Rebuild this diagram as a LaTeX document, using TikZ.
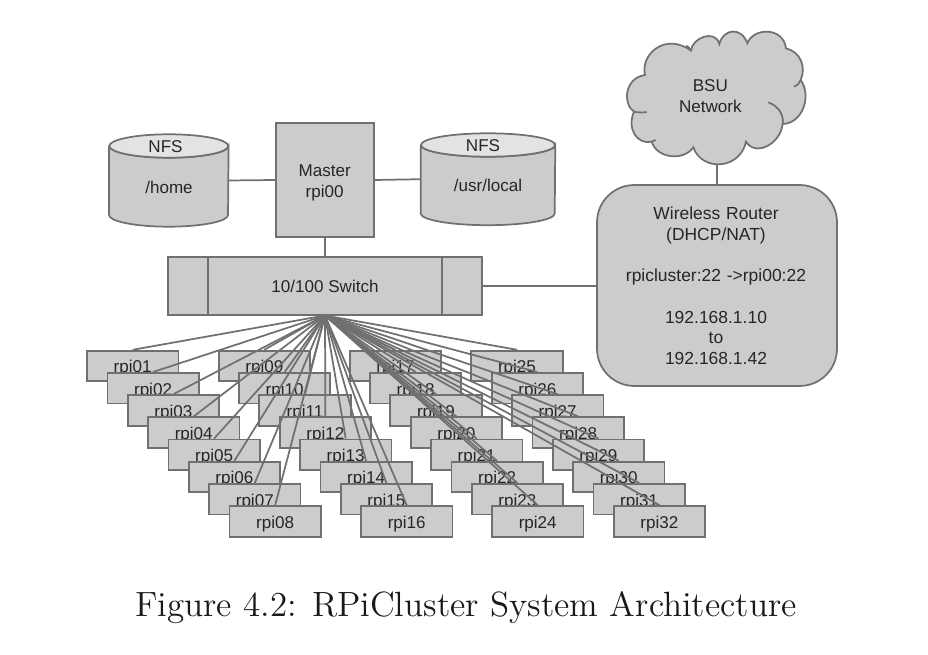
\documentclass[tikz,border=0pt]{standalone}
\usepackage{fontspec}
\newfontfamily\arialish{Liberation Sans}
\newfontfamily\capfont{lmroman12-regular.otf}
\definecolor{boxfill}{HTML}{CCCCCC}
\definecolor{boxline}{HTML}{707070}
\definecolor{capfill}{HTML}{E3E3E3}
\tikzset{
  lw/.style={line width=1.3pt,draw=boxline},
  gbox/.style={lw,fill=boxfill,text=black!85,font=\arialish\fontsize{12.8pt}{15.5pt}\selectfont,inner sep=0pt,align=center},
  rpibox/.style={gbox,minimum width=68.5pt,minimum height=23pt,text height=11.2pt,text depth=0.7pt},
  wire/.style={lw},
  plainlabel/.style={text=black!85,font=\arialish\fontsize{12.8pt}{15.5pt}\selectfont,inner sep=0pt,align=center}
}
\begin{document}
\begin{tikzpicture}[x=0.75pt,y=-0.75pt]
\useasboundingbox (0,0) rectangle (928,655);
% cloud
\begin{scope}[shift={(590,30)},x=0.25pt,y=-0.25pt]
  \path[lw,fill=boxfill]
    (165,135) .. controls (150,75) and (225,5) .. (303,62)
    .. controls (305,25) and (375,-5) .. (388,42)
    .. controls (400,-5) and (455,-10) .. (472,40)
    .. controls (490,-8) and (580,-10) .. (588,55)
    .. controls (630,65) and (650,110) .. (632,150)
    .. controls (665,195) and (640,280) .. (578,282)
    .. controls (570,345) and (495,380) .. (468,335)
    .. controls (450,420) and (335,425) .. (310,352)
    .. controls (280,395) and (200,385) .. (185,335)
    .. controls (140,345) and (110,295) .. (132,245)
    .. controls (100,225) and (100,145) .. (165,135) -- cycle;
  \draw[lw] (632,150) .. controls (630,160) and (622,165) .. (612,170);
  \draw[lw] (535,217) .. controls (570,230) and (582,260) .. (578,282);
  \draw[lw] (132,245) .. controls (145,248) and (158,248) .. (170,246);
  \draw[lw] (303,62) .. controls (300,55) and (295,50) .. (288,47);
  \draw[lw] (185,335) .. controls (188,333) and (192,332) .. (197,330);
  \node[plainlabel] (cloudlabel) at (361,199) {BSU\\Network};
\end{scope}
\coordinate (cloudfoot) at (716.7,165);
% cylinders
\node[inner sep=0pt,minimum width=89.25pt,minimum height=69.3pt] (home) at (168.8,180.5) {};
\path[lw,fill=boxfill] (home.north west |- 0,146) -- (home.south west |- 0,215)
   arc[start angle=180,end angle=0,x radius=59.5,y radius=11.7] -- (home.north east |- 0,146)
   arc[start angle=0,end angle=180,x radius=59.5,y radius=11.7];
\path[lw,fill=capfill] (168.8,146) ellipse[x radius=59.5,y radius=11.7];
\node[plainlabel] (homecap) at (165.5,146.5) {NFS};
\node[plainlabel] (homelabel) at (169,187) {/home};
\node[inner sep=0pt,minimum width=100.5pt,minimum height=68.8pt] (usr) at (488,179.2) {};
\path[lw,fill=boxfill] (usr.north west |- 0,145) -- (usr.south west |- 0,213.5)
   arc[start angle=180,end angle=0,x radius=67,y radius=11.7] -- (usr.north east |- 0,145)
   arc[start angle=0,end angle=180,x radius=67,y radius=11.7];
\path[lw,fill=capfill] (488,145) ellipse[x radius=67,y radius=11.7];
\node[plainlabel] (usrcap) at (483,146) {NFS};
\node[plainlabel] (usrlabel) at (488,185) {/usr/local};
% master, switch, router
\node[gbox,minimum width=73.5pt,minimum height=85pt] (master) at (324.7,180) {};
\node[plainlabel] (masterlabel) at (324.7,182.8) {Master\\rpi00};
\node[gbox,minimum width=235pt,minimum height=43.2pt] (switch) at (325,286.1) {10/100 Switch};
\coordinate (swl) at (207.7,0); \coordinate (swr) at (442.3,0);
\draw[wire] (swl |- switch.north) -- (swl |- switch.south);
\draw[wire] (swr |- switch.north) -- (swr |- switch.south);
\node[gbox,minimum width=180pt,minimum height=150.7pt,rounded corners=28pt] (router) at (717,285.5) {};
\node[plainlabel,text width=170pt,font=\arialish\fontsize{13.1pt}{15.5pt}\selectfont] (routerlabel) at (716,285.8) {Wireless Router\\(DHCP/NAT)\\[15.5pt]rpicluster:22 ->rpi00:22\\[15.5pt]192.168.1.10\\to\\192.168.1.42};
% connectors
\draw[wire] (home.east) -- (master.west);
\draw[wire] (master.east) -- (usr.west);
\draw[wire] (master.south) -- (master.south |- switch.north);
\draw[wire] (switch.east) -- (router.west |- switch.east);
\draw[wire] (cloudfoot) -- (cloudfoot |- router.north);
% rpi boxes
\foreach \c/\xx in {0/132.7,1/264.3,2/395.3,3/517.0} {
  \foreach \i in {1,...,8} {
    \pgfmathtruncatemacro{\n}{\c*8+\i}
    \pgfmathsetmacro{\px}{\xx+(\i-1)*20.35}
    \pgfmathsetmacro{\py}{366+(\i-1)*22.2}
    \edef\lbl{\ifnum\n<10 0\fi\n}
    \node[rpibox] (rpi\lbl) at (\px,\py) {rpi\lbl};
  }
}
\coordinate (hub) at (325,315.5);
\foreach \n in {01,02,03,04,05,06,07,08,09,10,11,12,13,14,15,16,17,18,19,20,21,22,23,24,25,26,27,28,29,30,31,32} {
  \draw[wire] (hub) -- (rpi\n.north);
}
% caption
\node[inner sep=0pt,font=\capfont\fontsize{26.3pt}{30pt}\selectfont,text=black!90] (caption) at (466,608) {Figure 4.2: RPiCluster System Architecture};
\end{tikzpicture}
\end{document}
